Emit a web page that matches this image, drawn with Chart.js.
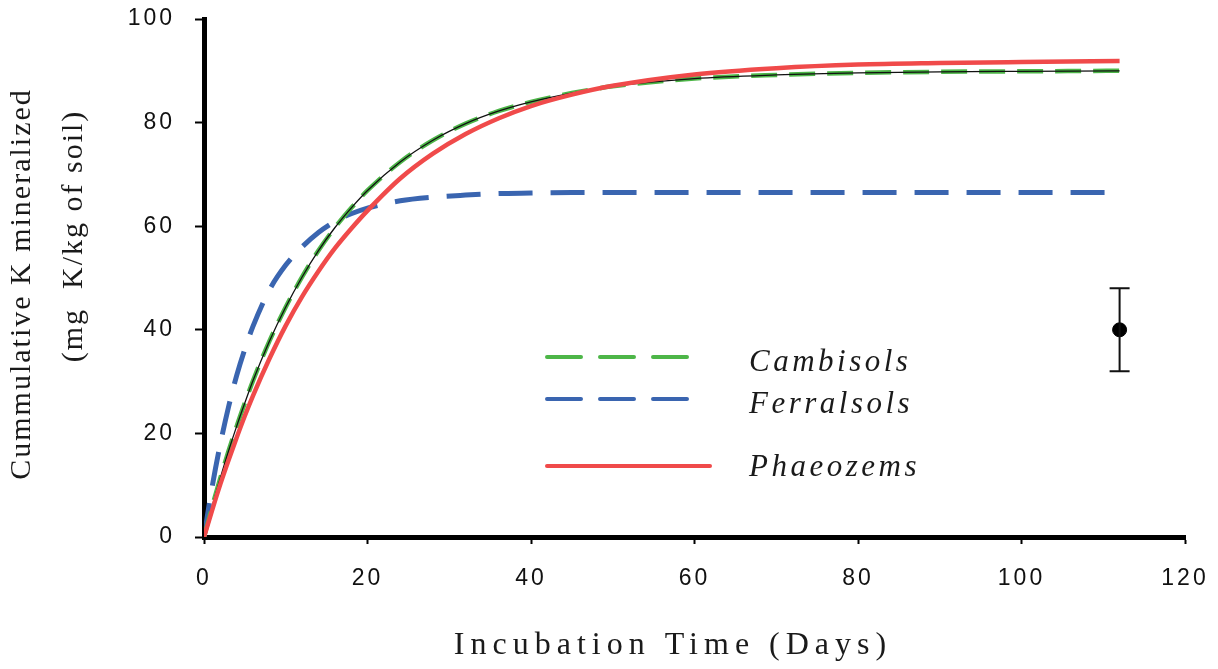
<!DOCTYPE html>
<html>
<head>
<meta charset="utf-8">
<script src="https://cdn.jsdelivr.net/npm/chart.js@4/dist/chart.umd.min.js"></script>
<style>
  html, body { margin: 0; padding: 0; background: #fff; }
  #wrap { width: 1218px; height: 669px; position: relative; }
</style>
</head>
<body>
<div id="wrap"><canvas id="myChart" width="1218" height="669"></canvas></div>
<script>
const days = [0, 1, 2, 3, 4, 5, 6, 8, 10, 12, 14, 16, 18, 20, 24, 28, 32, 36, 40, 45, 50, 60, 70, 80, 90, 100, 112];

const cambisols = [0, 5.9, 11.4, 16.6, 21.4, 25.9, 30.2, 37.8, 44.4, 50.2, 55.3, 59.7, 63.5, 66.9, 72.4, 76.6, 79.8, 82.2, 84.0, 85.7, 87.0, 88.5, 89.2, 89.6, 89.8, 89.9, 90.0];
const ferralsols = [0, 9.7, 18.0, 25.1, 31.2, 36.3, 40.7, 47.7, 52.5, 56.0, 58.8, 60.9, 62.4, 63.5, 64.9, 65.6, 66.0, 66.3, 66.4, 66.5, 66.5, 66.5, 66.5, 66.5, 66.5, 66.5, 66.5];
const phaeozems = [0, 5.2, 10.2, 14.8, 19.2, 23.4, 27.3, 34.4, 40.8, 46.4, 51.3, 55.7, 59.5, 63.0, 69.2, 74.0, 77.8, 80.8, 83.2, 85.4, 87.1, 89.3, 90.5, 91.2, 91.5, 91.7, 91.9];

// error bar (LSD) shown at the right
const errX = 112;
const errMean = 40;
const errLow = 32;
const errHigh = 48;

const xTicks = [0, 20, 40, 60, 80, 100, 120];
const yTicks = [0, 20, 40, 60, 80, 100];

const seriesNames = ["Cambisols", "Ferralsols", "Phaeozems"];

function toPoints(vals) {
  return vals.map((v, i) => ({ x: days[i], y: v }));
}

const GREEN = "#4db648";
const BLUE = "#3a65b0";
const RED = "#f04a4a";
const SERIF = "'Liberation Serif', 'Times New Roman', serif";

const errorBarPlugin = {
  id: "errorBar",
  afterDatasetsDraw(chart) {
    const { ctx, scales } = chart;
    const x = scales.x.getPixelForValue(errX);
    const yl = scales.y.getPixelForValue(errLow);
    const yh = scales.y.getPixelForValue(errHigh);
    ctx.save();
    ctx.strokeStyle = "#111";
    ctx.lineWidth = 2;
    ctx.beginPath();
    ctx.moveTo(x, yl); ctx.lineTo(x, yh);
    ctx.moveTo(x - 10, yl); ctx.lineTo(x + 10, yl);
    ctx.moveTo(x - 10, yh); ctx.lineTo(x + 10, yh);
    ctx.stroke();
    ctx.restore();
  },
};

const legendPlugin = {
  id: "customLegend",
  afterDatasetsDraw(chart) {
    const ctx = chart.ctx;
    const rows = [
      { name: seriesNames[0], color: GREEN, dash: [34, 19], y: 357, x1: 692, base: 371 },
      { name: seriesNames[1], color: BLUE, dash: [34, 19], y: 399, x1: 692, base: 413 },
      { name: seriesNames[2], color: RED, dash: [], y: 466, x1: 710, base: 476 },
    ];
    ctx.save();
    rows.forEach((r) => {
      ctx.strokeStyle = r.color;
      ctx.lineWidth = 4;
      ctx.lineCap = "round";
      ctx.setLineDash(r.dash);
      ctx.beginPath();
      ctx.moveTo(547, r.y);
      ctx.lineTo(r.x1, r.y);
      ctx.stroke();
    });
    ctx.setLineDash([]);
    ctx.fillStyle = "#1a1a1a";
    ctx.font = "italic 31px " + SERIF;
    ctx.letterSpacing = "3.5px";
    ctx.textBaseline = "alphabetic";
    ctx.textAlign = "left";
    rows.forEach((r) => ctx.fillText(r.name, 749, r.base));
    ctx.restore();
  },
};

const titlePlugin = {
  id: "axisTitles",
  beforeDraw(chart) {
    chart.ctx.letterSpacing = "3px";
  },
  afterDraw(chart) {
    const ctx = chart.ctx;
    ctx.save();
    ctx.fillStyle = "#1a1a1a";
    ctx.textAlign = "center";
    ctx.textBaseline = "middle";
    ctx.font = "32px " + SERIF;
    ctx.letterSpacing = "6px";
    ctx.fillText("Incubation Time (Days)", 673, 646);
    ctx.letterSpacing = "2px";
    ctx.font = "30px " + SERIF;
    ctx.translate(22, 284);
    ctx.rotate(-Math.PI / 2);
    ctx.fillText("Cummulative K mineralized", 0, 0);
    ctx.fillText("(mg  K/kg of soil)", 48, 52);
    ctx.restore();
  },
};

const chart = new Chart(document.getElementById("myChart"), {
  type: "line",
  data: {
    datasets: [
      {
        label: seriesNames[2],
        data: toPoints(phaeozems),
        borderColor: RED,
        borderWidth: 4.5,
        pointRadius: 0,
        cubicInterpolationMode: "monotone",
        order: 0,
      },
      {
        label: "Cambisols fit",
        data: toPoints(cambisols),
        borderColor: "#111",
        borderWidth: 1.3,
        pointRadius: 0,
        cubicInterpolationMode: "monotone",
        order: 1,
      },
      {
        label: seriesNames[0],
        data: toPoints(cambisols),
        borderColor: GREEN,
        borderWidth: 4.5,
        borderDash: [26, 12],
        pointRadius: 0,
        cubicInterpolationMode: "monotone",
        order: 2,
      },
      {
        label: seriesNames[1],
        data: toPoints(ferralsols),
        borderColor: BLUE,
        borderWidth: 5,
        borderDash: [34, 18],
        pointRadius: 0,
        cubicInterpolationMode: "monotone",
        order: 3,
      },
      {
        label: "LSD",
        data: [{ x: errX, y: errMean }],
        showLine: false,
        pointRadius: 7,
        pointBackgroundColor: "#000",
        pointBorderColor: "#000",
        order: 0,
      },
    ],
  },
  options: {
    responsive: false,
    animation: false,
    layout: { padding: { top: 19, right: 33, left: 0, bottom: 0 } },
    plugins: {
      legend: { display: false },
      tooltip: { enabled: false },
    },
    scales: {
      x: {
        type: "linear",
        min: 0,
        max: 120,
        afterFit: (scale) => {
          scale.height = 132;
          scale.paddingLeft = 0;
          scale.paddingRight = 0;
        },
        afterBuildTicks: (scale) => { scale.ticks = xTicks.map((v) => ({ value: v })); },
        border: { display: true, color: "#000", width: 5 },
        grid: { drawOnChartArea: false, drawTicks: true, tickLength: 7, tickColor: "#000", tickWidth: 2 },
        ticks: {
          color: "#111",
          padding: 21,
          font: { family: "'Liberation Sans', Arial, sans-serif", size: 23 },
          maxRotation: 0,
        },
      },
      y: {
        min: 0,
        max: 100,
        afterFit: (scale) => {
          scale.width = 204;
          scale.paddingTop = 0;
          scale.paddingBottom = 0;
        },
        afterBuildTicks: (scale) => { scale.ticks = yTicks.map((v) => ({ value: v })); },
        border: { display: true, color: "#000", width: 5 },
        grid: { drawOnChartArea: false, drawTicks: true, tickLength: 9, tickColor: "#000", tickWidth: 2 },
        ticks: {
          color: "#111",
          padding: 20,
          font: { family: "'Liberation Sans', Arial, sans-serif", size: 23 },
        },
      },
    },
  },
  plugins: [errorBarPlugin, legendPlugin, titlePlugin],
});
</script>
</body>
</html>
